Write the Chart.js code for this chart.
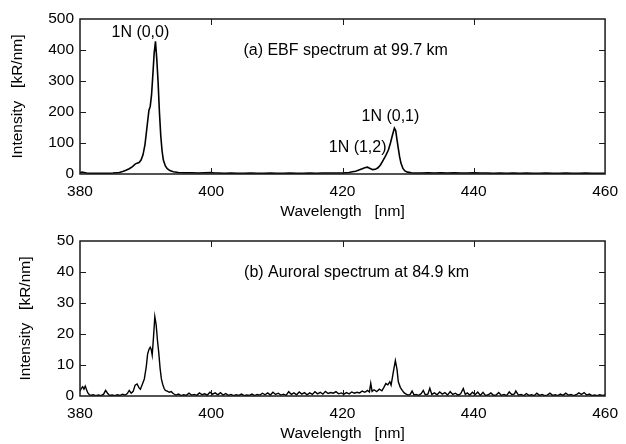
<!DOCTYPE html>
<html>
<head>
<meta charset="utf-8">
<script src="https://cdn.jsdelivr.net/npm/chart.js@4/dist/chart.umd.min.js"></script>
<style>
  html, body { margin: 0; padding: 0; background: #fff; }
  #wrap { position: relative; width: 626px; height: 444px; }
  .panel { position: absolute; left: 0; width: 626px; height: 222px; }
</style>
</head>
<body>
<div id="wrap">
  <div class="panel" style="top:0"><canvas id="c1" width="626" height="222"></canvas></div>
  <div class="panel" style="top:222px"><canvas id="c2" width="626" height="222"></canvas></div>
</div>
<script>
// ---------- Data: panel (a) EBF spectrum at 99.7 km ----------
const wavelengthA = [
  380.0, 380.3, 380.6, 381.0, 381.5, 382.0, 383.0, 384.0, 385.0, 385.5,
  386.0, 386.5, 387.0, 387.5, 388.0, 388.4, 388.7, 389.0, 389.3, 389.6,
  389.9, 390.2, 390.5, 390.7, 390.9, 391.1, 391.3, 391.5, 391.7, 391.9,
  392.1, 392.3, 392.5, 392.7, 393.0, 393.3, 393.7, 394.2, 395.0, 396.0,
  397.0, 398.0, 399.0, 400.0, 400.5, 401.0, 402.0, 403.0, 404.0, 405.0,
  406.0, 407.0, 408.0, 409.0, 410.0, 411.0, 412.0, 413.0, 414.0, 415.0,
  416.0, 417.0, 418.0, 419.0, 420.0, 420.5, 421.0, 421.5, 422.0, 422.5,
  423.0, 423.5, 423.8, 424.2, 424.6, 425.0, 425.4, 425.8, 426.2, 426.6,
  427.0, 427.3, 427.6, 427.9, 428.1, 428.3, 428.5, 428.7, 428.9, 429.2,
  429.5, 429.9, 430.5, 431.0, 432.0, 433.0, 434.0, 435.0, 436.0, 437.0,
  438.0, 439.0, 440.0, 441.0, 442.0, 443.0, 444.0, 445.0, 446.0, 447.0,
  448.0, 449.0, 450.0, 451.0, 452.0, 453.0, 454.0, 455.0, 456.0, 457.0,
  458.0, 459.0, 460.0
];
const intensityA = [
  4, 6, 5, 3, 2, 2, 2, 2, 3, 4,
  5, 8, 12, 17, 24, 32, 35, 37, 45, 62,
  95, 150, 205, 218, 255, 320, 390, 428, 370, 295,
  200, 125, 75, 45, 26, 17, 11, 7, 5, 4,
  4, 3, 4, 5, 3, 3, 2, 3, 2, 2,
  3, 2, 2, 3, 2, 2, 3, 2, 2, 3,
  2, 3, 3, 3, 3, 4, 5, 7, 9, 13,
  17, 21, 22, 18, 14, 15, 20, 30, 45, 60,
  78, 100, 125, 148, 140, 110, 82, 55, 35, 18,
  10, 6, 4, 3, 3, 4, 3, 4, 3, 4,
  3, 3, 4, 3, 3, 2, 3, 2, 3, 2,
  3, 2, 2, 3, 2, 2, 3, 2, 2, 3,
  2, 2, 2
];

// ---------- Data: panel (b) Auroral spectrum at 84.9 km ----------
const wavelengthB = [
  380.0, 380.2, 380.4, 380.6, 380.8, 381.0, 381.2, 381.4, 381.6, 382.0,
  382.4, 382.8, 383.2, 383.6, 383.9, 384.2, 384.5, 384.9, 385.3, 385.7,
  386.1, 386.5, 386.9, 387.2, 387.5, 387.8, 388.1, 388.4, 388.7, 389.0,
  389.2, 389.5, 389.8, 390.1, 390.3, 390.5, 390.7, 390.85, 391.0, 391.2,
  391.4, 391.6, 391.8, 392.0, 392.2, 392.4, 392.6, 392.8, 393.0, 393.3,
  393.6, 393.9,
  394.2, 394.6, 395.0, 395.4, 395.8, 396.2, 396.6, 397.0, 397.4, 397.8,
  398.2, 398.6, 399.0, 399.4, 399.8, 400.2, 400.6, 401.0, 401.4, 401.8,
  402.2, 402.6, 403.0, 403.4, 403.8, 404.2, 404.6, 405.0, 405.4, 405.8,
  406.2, 406.6, 407.0, 407.4, 407.8, 408.2, 408.6, 409.0, 409.4, 409.8,
  410.2, 410.6, 411.0, 411.4, 411.8, 412.2, 412.6, 413.0, 413.4, 413.8,
  414.2, 414.6, 415.0, 415.4, 415.8, 416.2, 416.6, 417.0, 417.4, 417.8,
  418.2, 418.6, 419.0, 419.4, 419.8, 420.2, 420.6, 421.0, 421.4, 421.8,
  422.2, 422.6, 423.0, 423.4, 423.8, 424.1, 424.3, 424.5, 424.8, 425.2,
  425.6, 426.0, 426.3, 426.6, 426.9, 427.2, 427.4, 427.6, 427.8, 428.05,
  428.3, 428.5, 428.8, 429.1, 429.4, 429.7, 430.0, 430.3, 430.6, 430.9,
  431.2, 431.6, 432.0, 432.3, 432.6, 433.0, 433.3, 433.6, 434.0, 434.4,
  434.8, 435.2, 435.6, 436.0, 436.4, 436.8, 437.2, 437.6, 438.0, 438.4,
  438.7, 439.0, 439.4, 439.8, 440.2, 440.6, 441.0, 441.4, 441.8, 442.2,
  442.6, 443.0, 443.4, 443.8, 444.2, 444.6, 445.0, 445.4, 445.8, 446.2,
  446.4, 446.8, 447.2, 447.6, 448.0, 448.4, 448.8, 449.2, 449.6, 450.0,
  450.4, 450.8, 451.2, 451.6, 452.0, 452.4, 452.8, 453.2, 453.6, 454.0,
  454.4, 454.8, 455.2, 455.6, 456.0, 456.4, 456.8, 457.2, 457.6, 458.0,
  458.4, 458.8, 459.2, 459.6, 460.0
];
const intensityB = [
  1.5, 2.5, 3.0, 2.2, 3.2, 2.0, 1.0, 0.5, 0.2, 0.4,
  0.1, 0.3, 0.1, 0.6, 1.8, 0.9, 0.2, 0.3, 0.1, 0.4,
  0.2, 0.6, 0.3, 0.8, 1.8, 0.9, 1.5, 3.5, 3.9, 2.6,
  2.2, 3.8, 5.5, 9.5, 13.5, 15.0, 15.7, 15.0, 13.2, 19.0,
  25.6, 23.0, 18.0, 14.0, 9.0, 5.5, 3.8, 2.5, 1.8, 1.6,
  1.2, 1.4,
  0.8, 0.3, 0.6, 0.1, 0.4, 0.2, 0.9, 0.3, 0.5, 0.2,
  1.0, 0.4, 0.7, 0.3, 1.2, 0.6, 1.0, 0.4, 1.1, 0.3,
  0.8, 0.2, 0.5, 0.1, 0.4, 0.2, 0.6, 0.1, 0.3, 0.2,
  0.6, 0.1, 0.5, 0.3, 0.9, 0.4, 1.0, 0.3, 1.2, 0.5,
  0.9, 0.3, 0.6, 0.2, 1.4, 0.5, 1.0, 0.4, 1.3, 0.6,
  1.1, 0.4, 1.0, 0.5, 1.4, 0.7, 1.2, 0.6, 1.5, 0.8,
  1.1, 0.9, 1.4, 0.7, 1.0, 0.6, 1.1, 0.7, 1.3, 0.9,
  1.2, 1.0, 1.6, 1.2, 1.8, 1.3, 4.1, 1.5, 2.0, 1.4,
  2.2, 1.7, 2.8, 4.0, 3.6, 4.6, 3.5, 6.0, 8.5, 11.4,
  8.6, 4.6, 2.8, 1.8, 1.0, 0.6, 0.3, 0.5, 1.6, 0.3,
  0.5, 0.2, 0.8, 1.8, 0.4, 0.6, 2.5, 0.5, 1.0, 0.4,
  1.3, 0.6, 1.1, 0.3, 1.4, 0.5, 0.9, 0.3, 0.7, 2.4,
  0.5, 1.0, 0.3, 1.2, 0.4, 1.3, 0.2, 1.2, 0.1, 0.4,
  1.0, 0.2, 0.3, 1.1, 0.2, 0.5, 0.1, 1.3, 0.4, 0.7,
  1.6, 0.3, 0.5, 0.1, 0.8, 0.2, 0.4, 0.1, 0.9, 0.2,
  0.5, 0.1, 0.3, 0.9, 0.2, 0.4, 0.1, 0.6, 0.2, 0.9,
  0.3, 0.5, 0.1, 0.4, 1.0, 0.5, 1.1, 0.3, 0.6, 0.1,
  0.3, 0.1, 0.4, 0.2, 0.3
];

// ---------- Axis tick settings ----------
const xTicks = { min: 380, max: 460, step: 20 };
const yTicksA = { min: 0, max: 500, step: 100 };
const yTicksB = { min: 0, max: 50, step: 10 };

// ---------- Text ----------
const xTitle = 'Wavelength   [nm]';
const yTitle = 'Intensity   [kR/nm]';
const labelsA = [
  { text: '1N (0,0)', x: 389.2, y: 456, align: 'center' },
  { text: '(a) EBF spectrum at 99.7 km', x: 404.9, y: 397, align: 'left' },
  { text: '1N (0,1)', x: 427.3, y: 185, align: 'center' },
  { text: '1N (1,2)', x: 422.3, y: 85.5, align: 'center' }
];
const labelsB = [
  { text: '(b) Auroral spectrum at 84.9 km', x: 405.0, y: 39.8, align: 'left' }
];

const FONT = '"Liberation Sans", Arial, Helvetica, sans-serif';
const AXIS_FONT_SIZE = 15.5;
const LABEL_FONT_SIZE = 16;

const framePlugin = {
  id: 'frame',
  afterDatasetsDraw(chart, args, opts) {
    const { ctx, chartArea: a, scales } = chart;
    ctx.save();
    ctx.strokeStyle = '#1a1a1a';
    ctx.lineWidth = 1.5;
    ctx.strokeRect(a.left, a.top, a.right - a.left, a.bottom - a.top);
    const L = 6;
    ctx.lineWidth = 1;
    ctx.beginPath();
    scales.x.ticks.forEach(t => {
      if (t.value <= scales.x.min || t.value >= scales.x.max) return;
      const px = Math.round(scales.x.getPixelForValue(t.value)) + 0.5;
      ctx.moveTo(px, a.bottom); ctx.lineTo(px, a.bottom - L);
      ctx.moveTo(px, a.top); ctx.lineTo(px, a.top + L);
    });
    scales.y.ticks.forEach(t => {
      if (t.value <= scales.y.min || t.value >= scales.y.max) return;
      const py = Math.round(scales.y.getPixelForValue(t.value)) + 0.5;
      ctx.moveTo(a.left, py); ctx.lineTo(a.left + L, py);
      ctx.moveTo(a.right, py); ctx.lineTo(a.right - L, py);
    });
    ctx.stroke();
    // text labels
    ctx.fillStyle = '#000';
    ctx.font = LABEL_FONT_SIZE + 'px ' + FONT;
    ctx.textBaseline = 'middle';
    (opts.labels || []).forEach(l => {
      ctx.textAlign = l.align;
      ctx.fillText(l.text, scales.x.getPixelForValue(l.x), scales.y.getPixelForValue(l.y));
    });
    ctx.restore();
  }
};

function makeChart(id, xs, ys, yT, labels, yTitlePad, lw) {
  const pts = xs.map((x, i) => ({ x: x, y: ys[i] }));
  return new Chart(document.getElementById(id), {
    type: 'line',
    data: {
      datasets: [{
        data: pts,
        borderColor: '#000',
        borderWidth: lw,
        pointRadius: 0,
        tension: 0,
        fill: false
      }]
    },
    options: {
      responsive: false,
      animation: false,
      devicePixelRatio: 1,
      layout: { padding: { top: 19, right: 16, bottom: 0, left: 0 } },
      plugins: {
        legend: { display: false },
        tooltip: { enabled: false },
        frame: { labels: labels }
      },
      scales: {
        x: {
          type: 'linear',
          min: xTicks.min, max: xTicks.max,
          ticks: { stepSize: xTicks.step, color: '#000', padding: 8,
                   font: { family: FONT, size: AXIS_FONT_SIZE } },
          grid: { display: false, drawTicks: false },
          border: { display: false },
          title: { display: true, text: xTitle, color: '#000',
                   font: { family: FONT, size: AXIS_FONT_SIZE },
                   padding: { top: 0, bottom: 1 } },
          afterFit(s) { s.height = 48; }
        },
        y: {
          type: 'linear',
          min: yT.min, max: yT.max,
          ticks: { stepSize: yT.step, color: '#000', padding: 6,
                   font: { family: FONT, size: AXIS_FONT_SIZE } },
          grid: { display: false, drawTicks: false },
          border: { display: false },
          title: { display: true, text: yTitle, color: '#000',
                   font: { family: FONT, size: AXIS_FONT_SIZE },
                   padding: { top: yTitlePad, bottom: 0 } },
          afterFit(s) { s.width = 80; }
        }
      }
    },
    plugins: [framePlugin]
  });
}

makeChart('c1', wavelengthA, intensityA, yTicksA, labelsA, 8.2, 1.6);
makeChart('c2', wavelengthB, intensityB, yTicksB, labelsB, 16.2, 1.4);
</script>
</body>
</html>
